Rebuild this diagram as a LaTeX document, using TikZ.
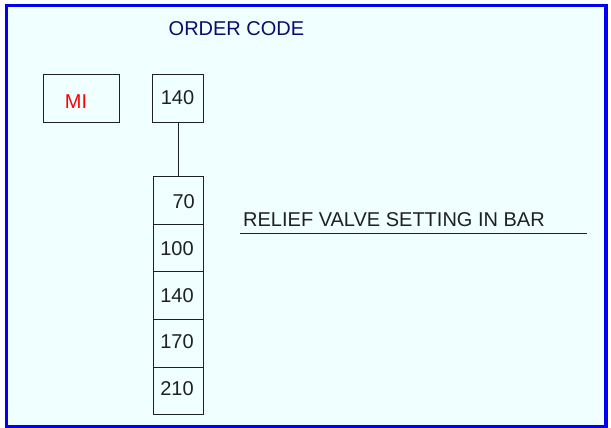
\documentclass[tikz,border=0pt]{standalone}
\usepackage{fontspec}
\setmainfont{Liberation Sans}
\definecolor{bgcol}{HTML}{F0FFFF}
\definecolor{framecol}{HTML}{0000F5}
\definecolor{navycol}{HTML}{0C0C6E}
\definecolor{linecol}{HTML}{202020}
\begin{document}
\begin{tikzpicture}[x=1pt,y=-1pt,
  box/.style={draw=linecol, line width=0.9pt, inner sep=0pt},
  txt/.style={font=\fontsize{20}{24}\selectfont, inner sep=0pt, anchor=base, text=linecol}]
\useasboundingbox (0,0) rectangle (611,428);
\fill[white] (0,0) rectangle (611,428);
\draw[line width=3.4pt, draw=framecol, fill=bgcol] (6.2,5.6) rectangle (606,426.5);
% title
\node[txt, text=navycol] (title) at (236.5,35.7) {ORDER CODE};
% MI box
\node[box, minimum width=76pt, minimum height=48pt] (mi) at (81,98) {};
\node[txt, text=red] (mitxt) at (76,108.3) {MI};
% top 140 box
\node[box, minimum width=51pt, minimum height=48pt] (top) at (178,98) {};
\node[txt] (toptxt) at (177.5,105) {140};
% column
\node[box, minimum width=50pt, minimum height=47.6pt] (c1) at (178.3,200.5) {};
\node[box, minimum width=50pt, minimum height=47.6pt] (c2) at (178.3,248.1) {};
\node[box, minimum width=50pt, minimum height=47.6pt] (c3) at (178.3,295.7) {};
\node[box, minimum width=50pt, minimum height=47.6pt] (c4) at (178.3,343.3) {};
\node[box, minimum width=50pt, minimum height=47.6pt] (c5) at (178.3,390.9) {};
\node[txt, anchor=base east] (t1) at (195,208.3) {70};
\node[txt] (t2) at (177,255) {100};
\node[txt] (t3) at (177,302.7) {140};
\node[txt] (t4) at (177,348.3) {170};
\node[txt] (t5) at (177,395) {210};
\draw[linecol, line width=0.9pt] (top.south) -- (top.south |- c1.north);
% relief valve label
\node[txt, anchor=base west] (relief) at (243,226.7) {RELIEF VALVE SETTING IN BAR};
\coordinate (ulA) at (240,233);
\coordinate (ulB) at (586.7,233);
\draw[linecol, line width=0.9pt] (ulA) -- (ulB);
\end{tikzpicture}
\end{document}
